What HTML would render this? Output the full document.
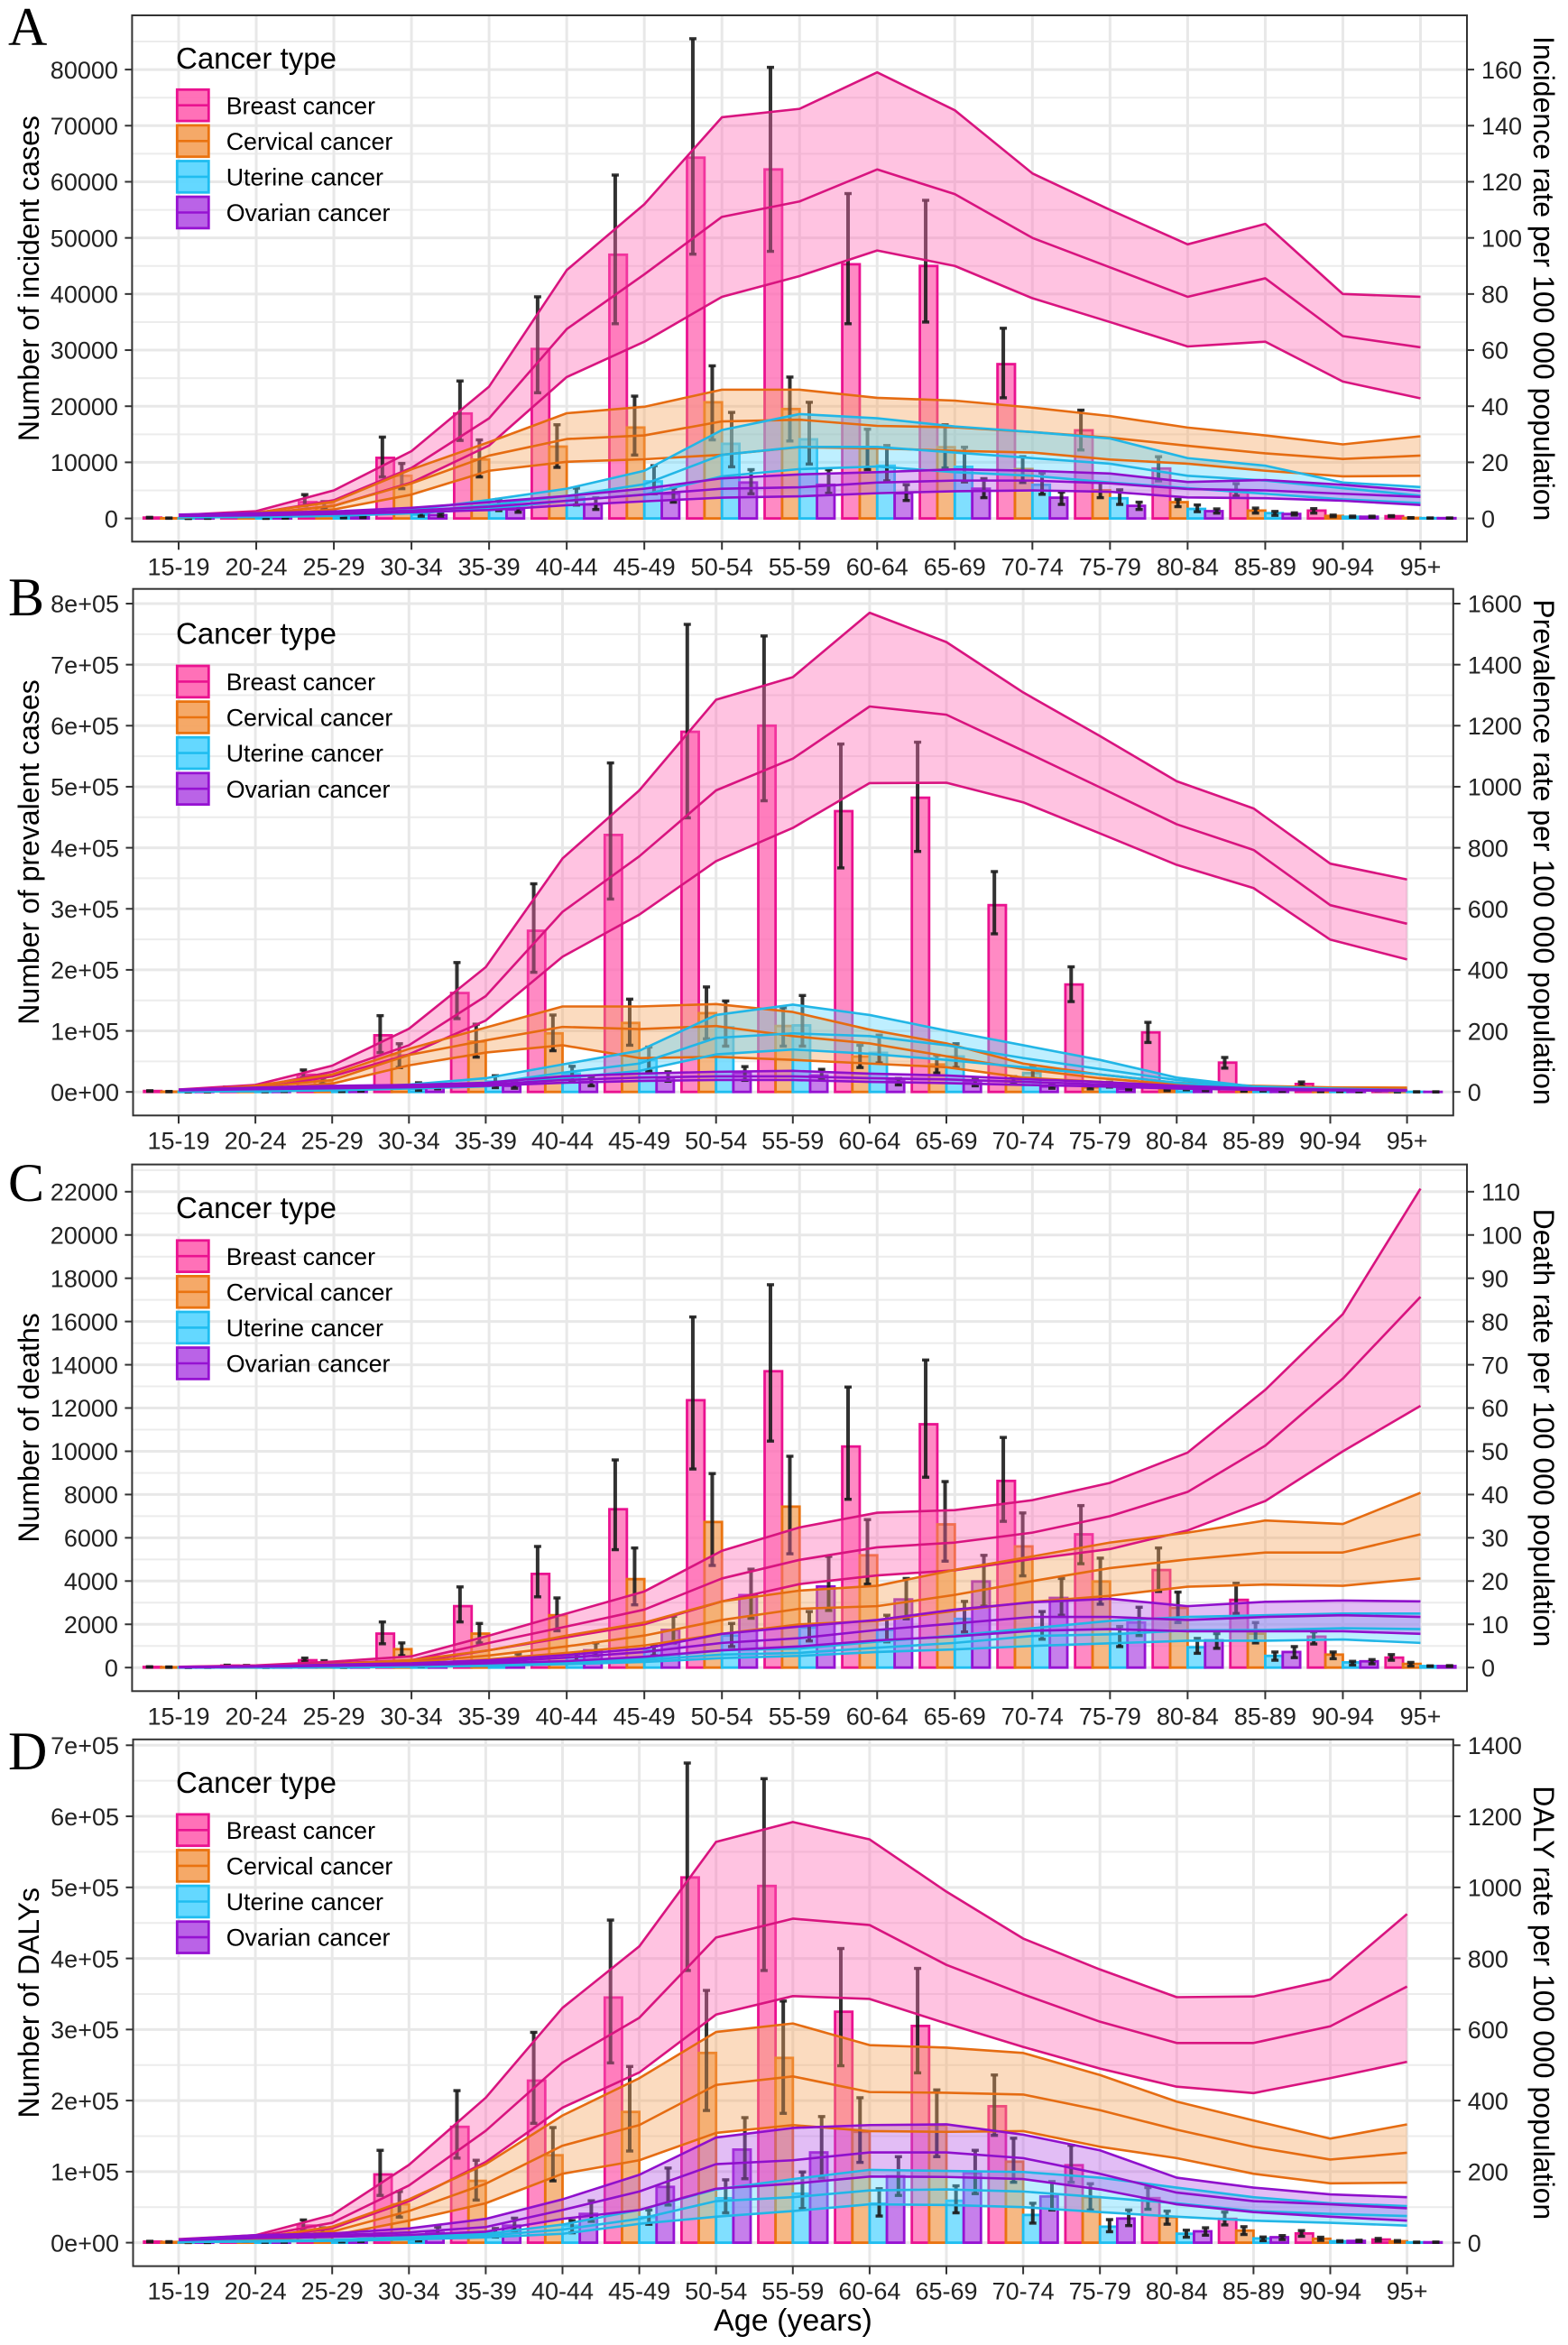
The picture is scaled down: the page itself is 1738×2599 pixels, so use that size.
<!DOCTYPE html>
<html lang="en">
<head>
<meta charset="utf-8">
<title>Cancer burden by age group</title>
<style>
html,body{margin:0;padding:0;background:#fff;}
svg{display:block;}
text{font-family:"Liberation Sans",Arial,sans-serif;}
</style>
</head>
<body>
<svg id="figure" xmlns="http://www.w3.org/2000/svg" width="1738" height="2599" viewBox="0 0 1738 2599"></svg>
<script>
const ageGroups = ['15-19','20-24','25-29','30-34','35-39','40-44','45-49','50-54','55-59','60-64','65-69','70-74','75-79','80-84','85-89','90-94','95+'];

/* Panel A: incidence */
const incBreastBar=[150,500,2900,10800,18700,30200,47000,64300,62200,45300,45000,27500,15700,8900,4800,1400,400];
const incBreastHi=[200,700,4250,14500,24500,39500,61200,85500,80400,57900,56700,33900,19300,11000,6200,1750,500];
const incBreastLo=[100,350,2250,7400,13900,22400,34700,47100,47600,34700,35000,21500,12200,6700,4000,950,300];
const incCervicalBar=[50,600,2700,7600,10500,12800,16200,20700,19500,12500,12700,8800,5000,2900,1400,450,100];
const incCervicalHi=[80,800,3000,9800,14000,16700,21800,27200,25200,15900,16700,11000,6400,3400,1850,600,150];
const incCervicalLo=[30,400,1800,5300,7400,9100,11300,14000,13800,8700,9000,6400,3700,2100,950,300,60];
const incUterineBar=[10,30,150,700,2400,3700,6600,13300,14100,9400,9200,6000,3600,1700,950,300,60];
const incUterineHi=[20,50,250,1900,3400,5400,9400,18900,20700,13000,12700,8100,5100,2400,1250,420,90];
const incUterineLo=[5,15,100,400,1400,2400,4400,9200,9700,6700,6500,4300,2500,1200,550,200,40];
const incOvarianBar=[30,80,200,600,1600,2500,4400,6400,6000,4500,5300,3700,2250,1300,800,300,60];
const incOvarianHi=[50,120,300,1000,2400,3700,5400,8700,8700,6000,7100,4700,2900,1700,1000,400,90];
const incOvarianLo=[20,50,140,400,1100,1600,2900,4400,4500,3200,3700,2500,1600,950,600,200,40];
const incBreastRateUp=[1.2,2.6,10,24,47,88.5,112,143,146,159,145.5,123,110,97.7,105,80,79];
const incBreastRate=[0.9,1.9,6.5,18,35.7,67.5,87,107.5,113,124.4,115.6,100,89.5,79,85.6,65,61];
const incBreastRateLow=[0.7,1.5,4.5,12.8,26,50.4,63,79,86.4,95.5,90,78.5,70,61.3,63,48.8,42.8];
const incCervicalRateUp=[0.4,2,6,17.5,27.2,37.5,39.8,45.9,45.9,43,42,39.5,36.5,32.4,29.6,26.4,29.3];
const incCervicalRate=[0.3,1.5,4.5,12.5,22.4,28.3,29.6,34.6,35.2,33,32.5,30.8,28.8,25.9,23.2,21.2,22.4];
const incCervicalRateLow=[0.2,1.1,3.2,8.5,17,20.2,21.1,22.7,25.4,25,24.1,23.5,21,19.5,17,15,15.2];
const incUterineRateUp=[0.6,0.8,1.5,3,6.6,10.6,17,31.5,37.2,35.7,32.8,30.8,28.5,21.5,18.8,12.8,11.2];
const incUterineRate=[0.5,0.6,1.2,2.4,4.7,8,12.2,22.7,25.5,25.5,23.5,21.5,19.5,15.2,13.5,10.8,8.1];
const incUterineRateLow=[0.4,0.5,0.9,1.8,3.4,6.3,8.5,15,17.6,18.5,16.5,15.2,12.8,10.8,8.8,6.8,5.5];
const incOvarianRateUp=[1.4,1.9,2.5,3.8,5.8,8,10.6,14.3,15.7,16.5,17.5,17,16,13,13.7,12,9.8];
const incOvarianRate=[1.1,1.5,2,2.8,4.2,6.3,8.5,10.6,11.1,12.8,13.5,13.5,12.5,10.5,10,8.8,7.7];
const incOvarianRateLow=[0.9,1.1,1.6,2.2,3,4.7,6.1,7.4,7.9,9,9.7,10,9.5,7.5,7.2,6.3,4.8];
const incTickValues=[0,10000,20000,30000,40000,50000,60000,70000,80000];
const incTickLabels=['0','10000','20000','30000','40000','50000','60000','70000','80000'];
const incRateTickLabels=['0','20','40','60','80','100','120','140','160'];

/* Panel B: prevalence */
const prevBreastBar=[1500,6000,28000,92800,162000,264000,421000,590000,600000,460000,482000,306000,176000,97500,48000,13000,3000];
const prevBreastHi=[2000,8000,36000,125000,212000,341000,539000,766000,747000,570000,573000,361000,205000,114000,56500,16300,4000];
const prevBreastLo=[1000,4500,23000,64500,120000,196000,316000,449000,477000,367000,394000,259000,148000,81000,39000,10000,2200];
const prevCervicalBar=[500,3000,18000,60000,82500,96000,113000,129000,108000,58000,45000,18000,7500,3000,1500,700,200];
const prevCervicalHi=[800,4000,23000,79000,111000,126000,152000,172000,138000,76500,60000,25000,11000,4000,2000,1000,300];
const prevCervicalLo=[300,2000,13000,40000,57000,67500,76500,87000,75000,40000,31000,13000,5000,2000,1000,500,100];
const prevUterineBar=[200,500,1000,5000,17000,30000,52000,106000,109000,64000,58000,31000,11000,5000,2500,800,150];
const prevUterineHi=[300,800,2000,15000,26500,42000,73500,149000,158000,93000,79000,41500,16000,7000,3500,1200,250];
const prevUterineLo=[100,300,600,2500,7000,19000,34000,75000,75000,47500,40000,22000,8000,3500,1500,500,100];
const prevOvarianBar=[300,1000,2000,8000,10000,16300,23500,31000,27000,19000,17500,9000,5000,3000,1500,500,100];
const prevOvarianHi=[500,1500,3500,10000,16000,25000,33000,41500,37000,22000,21000,13000,7000,4000,2000,800,200];
const prevOvarianLo=[200,600,1200,5000,6000,10000,17500,19000,20500,11500,10000,6000,3500,2000,1000,300,60];
const prevBreastRateUp=[8,23,86,207,409,765,988,1285,1359,1570,1474,1309,1166,1018,929,748,696];
const prevBreastRate=[6,15,66,153,314,590,772,988,1092,1263,1236,1118,998,877,793,612,551];
const prevBreastRateLow=[4,11,51,123,234,443,581,756,865,1012,1013,949,847,744,668,499,434];
const prevCervicalRateUp=[2,20,57,141,211,280,280,288,262,204,159,93,57,30,20,15,14];
const prevCervicalRate=[1.5,15,39,121,169,213,206,216,183,159,117,75,45,24,15,11,11];
const prevCervicalRateLow=[1,10,27,87,129,153,111,115,105,93,81,47,33,15,10,8,8];
const prevUterineRateUp=[2,4,10,24,45,90,135,252,286,252,201,153,105,47,18,11,6];
const prevUterineRate=[1.5,3,7,16,27,63,93,177,192,183,153,111,75,39,16,8,5];
const prevUterineRateLow=[1,2,5,11,18,45,69,123,139,125,105,81,57,30,12,6,3];
const prevOvarianRateUp=[8,14,20,23,30,51,60,66,69,60,54,42,33,20,12,8,6];
const prevOvarianRate=[6,11,15,19,24,39,47,51,51,45,41,33,25,16,10,6,5];
const prevOvarianRateLow=[5,9,12,15,20,30,36,39,39,33,29,23,18,11,7,5,4];
const prevTickValues=[0,100000,200000,300000,400000,500000,600000,700000,800000];
const prevTickLabels=['0e+00','1e+05','2e+05','3e+05','4e+05','5e+05','6e+05','7e+05','8e+05'];
const prevRateTickLabels=['0','200','400','600','800','1000','1200','1400','1600'];

/* Panel C: deaths */
const deathBreastBar=[30,90,340,1570,2840,4330,7320,12360,13700,10220,11250,8630,6160,4510,3130,1430,460];
const deathBreastHi=[40,110,440,2110,3730,5600,9600,16210,17700,12970,14220,10640,7490,5530,3900,1650,600];
const deathBreastLo=[20,70,270,1100,2110,3270,5450,9180,10470,7780,8800,6760,4800,3520,2500,1090,340];
const deathCervicalBar=[20,80,200,850,1570,2420,4090,6730,7440,5190,6620,5600,3980,2760,1570,600,170];
const deathCervicalHi=[30,100,320,1140,2040,3220,5530,8970,9770,6840,8600,7150,5060,3490,2080,720,240];
const deathCervicalLo=[10,60,160,550,1140,1700,2900,4720,5260,3860,4920,4240,2930,2080,1140,410,70];
const deathUterineBar=[5,10,20,60,200,480,800,1480,1850,1740,2250,1740,1560,940,540,240,70];
const deathUterineHi=[8,15,30,90,300,630,1000,2040,2590,2420,3060,2590,1900,1350,720,290,80];
const deathUterineLo=[3,8,12,40,120,300,550,970,1230,1190,1650,1310,970,660,340,120,50];
const deathOvarianBar=[10,30,60,150,400,800,1740,3350,3750,3150,3980,3220,2080,1260,720,290,70];
const deathOvarianHi=[15,40,80,220,630,1140,2370,4550,5140,4120,5190,4120,2790,1570,970,370,90];
const deathOvarianLo=[8,20,40,100,200,550,1140,2280,2640,2250,2840,2420,1480,890,460,170,50];
const deathBreastRateUp=[0.2,0.5,1.4,2.6,7.4,12.5,17.6,27,32.4,35.8,36.4,38.7,42.7,49.7,64.2,81.7,110.7];
const deathBreastRate=[0.15,0.4,1,1.7,5.7,9.5,13.4,20.6,24.9,27.8,28.9,31.2,35,40.6,51.3,66.8,85.7];
const deathBreastRateLow=[0.1,0.3,0.8,1.2,4,7,10,15.3,19.3,21.3,22.5,25.1,27.4,31.7,38.5,50,60.5];
const deathCervicalRateUp=[0.05,0.2,0.8,1.7,4,7.4,10.4,15.3,17.8,18.9,22.6,25.7,28.9,31.2,34,33.2,40.4];
const deathCervicalRate=[0.04,0.15,0.6,1.2,2.8,4.9,7.4,11,13.6,14.2,16.8,20,23,25,26.6,26.6,30.8];
const deathCervicalRateLow=[0.03,0.1,0.4,0.8,1.9,3.4,5.1,7.8,10,10.8,13.1,15.2,16.6,18.7,19.2,18.9,20.6];
const deathUterineRateUp=[0.02,0.05,0.1,0.3,0.7,1.2,2.3,4,4.4,6,7.4,9.1,10.8,11.7,12.1,12.5,12.5];
const deathUterineRate=[0.01,0.03,0.08,0.2,0.5,1,1.8,3,3.4,4.6,5.7,7.3,7.7,8.6,8.7,9.1,8.9];
const deathUterineRateLow=[0.01,0.02,0.06,0.15,0.4,0.8,1.3,2.2,2.7,3.6,4.2,5,5.6,6.2,6.2,6.5,5.7];
const deathOvarianRateUp=[0.1,0.3,0.7,1,1.7,2.9,4.4,7.8,9.5,11,13.4,15.1,15.9,14.2,15.2,15.5,15.3];
const deathOvarianRate=[0.08,0.25,0.55,0.8,1.3,2.3,3.6,5.7,6.8,8.7,10.2,11.7,11.7,11,11.7,12.1,11.7];
const deathOvarianRateLow=[0.06,0.2,0.4,0.6,1,1.5,2.5,4,4.9,6.3,7.2,8.5,8.9,8.4,8.4,8.4,7.8];
const deathTickValues=[0,2000,4000,6000,8000,10000,12000,14000,16000,18000,20000,22000];
const deathTickLabels=['0','2000','4000','6000','8000','10000','12000','14000','16000','18000','20000','22000'];
const deathRateTickLabels=['0','10','20','30','40','50','60','70','80','90','100','110'];

/* Panel D: DALYs */
const dalyBreastBar=[1500,4000,24000,96000,163000,228000,345000,514000,502000,325000,305000,192000,109000,62700,33500,13000,4400];
const dalyBreastHi=[2000,5000,32000,130000,214000,296000,454000,675000,653000,414000,386000,236000,137000,77500,43000,17000,6000];
const dalyBreastLo=[1000,3000,17000,66500,119000,168000,253000,383000,383000,249000,239000,151000,85000,47000,25000,9000,2200];
const dalyCervicalBar=[1000,3000,17000,54000,87000,123000,184000,267000,260000,156000,165000,114000,64000,36000,17000,5500,2000];
const dalyCervicalHi=[1500,4000,21000,72000,116000,162000,248000,355000,340000,204000,215000,147000,83000,44500,22500,7700,3000];
const dalyCervicalLo=[600,2000,11500,36000,60000,87000,129000,186000,182000,113000,121000,85000,46000,26000,11500,3300,1000];
const dalyUterineBar=[300,800,1500,4000,14000,24000,36000,62500,69000,55000,59000,39000,22500,12600,6000,2000,500];
const dalyUterineHi=[500,1200,2500,6000,20000,31000,46000,88500,99500,76000,80000,55500,32500,17600,8000,2800,800];
const dalyUterineLo=[200,500,1000,2500,8000,14000,26000,42000,48000,37500,42000,27500,15400,7700,2800,1200,300];
const dalyOvarianBar=[300,1000,2500,14000,24000,40500,78500,131000,127000,93500,98000,65000,34000,16000,7700,2500,600];
const dalyOvarianHi=[500,1500,4000,22000,34500,59000,105000,176000,177500,121000,130000,86000,46000,21000,10000,3500,900];
const dalyOvarianLo=[200,600,1500,8000,17000,30000,53000,90000,91000,66500,69000,46000,24000,10500,4400,1500,400];
const dalyBreastRateUp=[10,21,78,219,408,661,834,1128,1184,1135,988,856,769,691,693,741,925];
const dalyBreastRate=[8,17,56,161,315,507,633,859,912,894,782,699,622,562,562,609,721];
const dalyBreastRateLow=[6,13,40,117,227,380,479,642,694,686,617,551,490,439,421,463,509];
const dalyCervicalRateUp=[2,12,45,122,221,358,463,593,617,556,549,534,472,397,344,293,333];
const dalyCervicalRate=[1.5,9,31,89,166,273,331,444,468,424,422,417,373,318,270,234,253];
const dalyCervicalRateLow=[1,6,20,62,111,194,232,309,331,314,312,314,270,238,194,167,169];
const dalyUterineRateUp=[3,5,8,16,25,51,92,150,179,205,202,199,183,155,128,111,103];
const dalyUterineRate=[2,4,6,12,20,37,67,117,128,147,150,144,128,111,89,81,75];
const dalyUterineRateLow=[2,3,5,9,15,25,53,73,89,108,106,100,86,73,62,56,48];
const dalyOvarianRateUp=[9,21,26,40,67,122,191,296,323,331,333,304,260,183,155,136,128];
const dalyOvarianRate=[8,17,21,29,44,92,144,221,232,254,254,238,194,141,117,108,97];
const dalyOvarianRateLow=[7,13,16,22,31,67,92,152,166,186,185,179,150,108,86,73,62];
const dalyTickValues=[0,100000,200000,300000,400000,500000,600000,700000];
const dalyTickLabels=['0e+00','1e+05','2e+05','3e+05','4e+05','5e+05','6e+05','7e+05'];
const dalyRateTickLabels=['0','200','400','600','800','1000','1200','1400'];

const seriesNames=['Breast cancer','Cervical cancer','Uterine cancer','Ovarian cancer'];
const legendTitle='Cancer type';
const xAxisTitle='Age (years)';

const styles=[
  {slug:'breast',stroke:'#ea1290',line:'#d8147f',fill:'#ff69b4',ribbon:'#ff69b4'},
  {slug:'cervical',stroke:'#ea7310',line:'#e56c12',fill:'#f4a460',ribbon:'#f4a460'},
  {slug:'uterine',stroke:'#1fbdf0',line:'#22b6e6',fill:'#5cd6ff',ribbon:'#5cd6ff'},
  {slug:'ovarian',stroke:'#9612d2',line:'#8f10cc',fill:'#b65be6',ribbon:'#b65be6'}
];

const panels=[
 {slug:'incidence',letter:'A',letterY:50,left:146.4,right:1626,top:17,bottom:600.3,x0:198,dx:86.03,y0:574.6,yRef:77.1,refValue:80000,factor:500,
  yTitle:'Number of incident cases',rTitle:'Incidence rate per 100 000 population',ticks:incTickValues,labels:incTickLabels,rLabels:incRateTickLabels,
  titleY:76,keyTop:98,
  data:[
   {bar:incBreastBar,hi:incBreastHi,lo:incBreastLo,up:incBreastRateUp,mid:incBreastRate,low:incBreastRateLow},
   {bar:incCervicalBar,hi:incCervicalHi,lo:incCervicalLo,up:incCervicalRateUp,mid:incCervicalRate,low:incCervicalRateLow},
   {bar:incUterineBar,hi:incUterineHi,lo:incUterineLo,up:incUterineRateUp,mid:incUterineRate,low:incUterineRateLow},
   {bar:incOvarianBar,hi:incOvarianHi,lo:incOvarianLo,up:incOvarianRateUp,mid:incOvarianRate,low:incOvarianRateLow}]},
 {slug:'prevalence',letter:'B',letterY:682,left:147.5,right:1610.8,top:652.7,bottom:1236.3,x0:198,dx:85.1,y0:1210.2,yRef:669,refValue:800000,factor:500,
  yTitle:'Number of prevalent cases',rTitle:'Prevalence rate per 100 000 population',ticks:prevTickValues,labels:prevTickLabels,rLabels:prevRateTickLabels,
  titleY:713.5,keyTop:736.7,
  data:[
   {bar:prevBreastBar,hi:prevBreastHi,lo:prevBreastLo,up:prevBreastRateUp,mid:prevBreastRate,low:prevBreastRateLow},
   {bar:prevCervicalBar,hi:prevCervicalHi,lo:prevCervicalLo,up:prevCervicalRateUp,mid:prevCervicalRate,low:prevCervicalRateLow},
   {bar:prevUterineBar,hi:prevUterineHi,lo:prevUterineLo,up:prevUterineRateUp,mid:prevUterineRate,low:prevUterineRateLow},
   {bar:prevOvarianBar,hi:prevOvarianHi,lo:prevOvarianLo,up:prevOvarianRateUp,mid:prevOvarianRate,low:prevOvarianRateLow}]},
 {slug:'deaths',letter:'C',letterY:1331,left:146.4,right:1626,top:1290.6,bottom:1874.3,x0:198,dx:86.03,y0:1848.2,yRef:1320.8,refValue:22000,factor:200,
  yTitle:'Number of deaths',rTitle:'Death rate per 100 000 population',ticks:deathTickValues,labels:deathTickLabels,rLabels:deathRateTickLabels,
  titleY:1350,keyTop:1373.5,
  data:[
   {bar:deathBreastBar,hi:deathBreastHi,lo:deathBreastLo,up:deathBreastRateUp,mid:deathBreastRate,low:deathBreastRateLow},
   {bar:deathCervicalBar,hi:deathCervicalHi,lo:deathCervicalLo,up:deathCervicalRateUp,mid:deathCervicalRate,low:deathCervicalRateLow},
   {bar:deathUterineBar,hi:deathUterineHi,lo:deathUterineLo,up:deathUterineRateUp,mid:deathUterineRate,low:deathUterineRateLow},
   {bar:deathOvarianBar,hi:deathOvarianHi,lo:deathOvarianLo,up:deathOvarianRateUp,mid:deathOvarianRate,low:deathOvarianRateLow}]},
 {slug:'dalys',letter:'D',letterY:1961,left:147.5,right:1610.8,top:1927.8,bottom:2511.6,x0:198,dx:85.1,y0:2485.6,yRef:1934.3,refValue:700000,factor:500,
  yTitle:'Number of DALYs',rTitle:'DALY rate per 100 000 population',ticks:dalyTickValues,labels:dalyTickLabels,rLabels:dalyRateTickLabels,
  titleY:1987,keyTop:2009.6,
  data:[
   {bar:dalyBreastBar,hi:dalyBreastHi,lo:dalyBreastLo,up:dalyBreastRateUp,mid:dalyBreastRate,low:dalyBreastRateLow},
   {bar:dalyCervicalBar,hi:dalyCervicalHi,lo:dalyCervicalLo,up:dalyCervicalRateUp,mid:dalyCervicalRate,low:dalyCervicalRateLow},
   {bar:dalyUterineBar,hi:dalyUterineHi,lo:dalyUterineLo,up:dalyUterineRateUp,mid:dalyUterineRate,low:dalyUterineRateLow},
   {bar:dalyOvarianBar,hi:dalyOvarianHi,lo:dalyOvarianLo,up:dalyOvarianRateUp,mid:dalyOvarianRate,low:dalyOvarianRateLow}]}
];

const NS='http://www.w3.org/2000/svg';
const root=document.getElementById('figure');
function mk(tag,attrs,parent,content){
  const n=document.createElementNS(NS,tag);
  for(const k in attrs){n.setAttribute(k,attrs[k]);}
  if(content!==undefined){n.textContent=content;}
  parent.appendChild(n);
  return n;
}
function xScale(p,i){return p.x0+i*p.dx;}
function yScale(p,v){return p.y0-(p.y0-p.yRef)*v/p.refValue;}
function rateScale(p,r){return yScale(p,r*p.factor);}
function linePath(p,arr){return arr.map(function(v,i){return (i?'L':'M')+xScale(p,i).toFixed(2)+' '+rateScale(p,v).toFixed(2);}).join('');}
function ribbonPath(p,up,low){
  let d=up.map(function(v,i){return (i?'L':'M')+xScale(p,i).toFixed(2)+' '+rateScale(p,v).toFixed(2);}).join('');
  for(let i=low.length-1;i>=0;i--){d+='L'+xScale(p,i).toFixed(2)+' '+rateScale(p,low[i]).toFixed(2);}
  return d+'Z';
}

panels.forEach(function(p){
  const g=mk('g',{},root);
  
  

  const clipId='clip-'+p.slug;
  const defs=mk('defs',{},g);
  const cp=mk('clipPath',{id:clipId},defs);
  mk('rect',{x:p.left,y:p.top,width:p.right-p.left,height:p.bottom-p.top},cp);

  /* gridlines */
  const grid=mk('g',{'clip-path':'url(#'+clipId+')'},g);
  
  
  const step=p.ticks[1]-p.ticks[0];
  for(let k=0;k<p.ticks.length+1;k++){
    const my=yScale(p,k*step+step/2);
    if(my>p.top){
      const m=mk('line',{x1:p.left,x2:p.right,y1:my,y2:my,stroke:'#ececec','stroke-width':2},grid);
      
      
    }
  }
  p.ticks.forEach(function(v){
    const y=yScale(p,v);
    const m=mk('line',{x1:p.left,x2:p.right,y1:y,y2:y,stroke:'#e8e8e8','stroke-width':3},grid);
    
    
  });
  ageGroups.forEach(function(a,i){
    const x=xScale(p,i);
    const m=mk('line',{x1:x,x2:x,y1:p.top,y2:p.bottom,stroke:'#e8e8e8','stroke-width':3},grid);
    
    
  });

  /* bars */
  const bars=mk('g',{},g);
  
  
  p.data.forEach(function(s,j){
    const st=styles[j];
    const w=0.225*p.dx;
    s.bar.forEach(function(v,i){
      const cx=xScale(p,i)+(j-1.5)*w;
      const yTop=yScale(p,v);
      const r=mk('rect',{x:(cx-w/2).toFixed(2),y:yTop.toFixed(2),width:w.toFixed(2),height:Math.max(0,p.y0-yTop).toFixed(2),fill:st.fill,'fill-opacity':0.78,stroke:st.stroke,'stroke-width':2.8},bars);
      
      
    });
  });

  /* error bars */
  const errs=mk('g',{stroke:'#1c1c1c','stroke-opacity':0.9,fill:'none'},g);
  
  
  p.data.forEach(function(s,j){
    const st=styles[j];
    s.hi.forEach(function(v,i){
      const cx=xScale(p,i)+(j-1.5)*0.25*p.dx;
      const yHi=yScale(p,v),yLo=yScale(p,s.lo[i]);
      const e=mk('g',{},errs);
      
      
      mk('line',{x1:cx,x2:cx,y1:yHi,y2:yLo,'stroke-width':4},e);
      mk('line',{x1:cx-4,x2:cx+4,y1:yHi,y2:yHi,'stroke-width':3.4},e);
      mk('line',{x1:cx-4,x2:cx+4,y1:yLo,y2:yLo,'stroke-width':3.4},e);
    });
  });

  /* ribbons and lines */
  p.data.forEach(function(s,j){
    const st=styles[j];
    const rb=mk('path',{d:ribbonPath(p,s.up,s.low),fill:st.ribbon,'fill-opacity':0.4,stroke:'none'},g);
    
    
  });
  p.data.forEach(function(s,j){
    const st=styles[j];
    [['upper',s.up],['mean',s.mid],['lower',s.low]].forEach(function(item){
      const l=mk('path',{d:linePath(p,item[1]),fill:'none',stroke:st.line,'stroke-width':2.6,'stroke-linejoin':'round'},g);
      
      
    });
  });

  /* border */
  const border=mk('rect',{x:p.left,y:p.top,width:p.right-p.left,height:p.bottom-p.top,fill:'none',stroke:'#333','stroke-width':2},g);
  
  

  /* left and right axes */
  p.ticks.forEach(function(v,k){
    const y=yScale(p,v);
    const tl=mk('line',{x1:p.left-8,x2:p.left,y1:y,y2:y,stroke:'#333','stroke-width':2},g);
    
    
    const lb=mk('text',{x:p.left-15.5,y:y+9.7,'text-anchor':'end','font-size':27,fill:'#222'},g,p.labels[k]);
    
    
    const tr=mk('line',{x1:p.right,x2:p.right+8,y1:y,y2:y,stroke:'#333','stroke-width':2},g);
    
    
    const rb=mk('text',{x:p.right+16,y:y+9.7,'text-anchor':'start','font-size':27,fill:'#222'},g,p.rLabels[k]);
    
    
  });

  /* x axis */
  ageGroups.forEach(function(a,i){
    const x=xScale(p,i);
    const t=mk('line',{x1:x,x2:x,y1:p.bottom,y2:p.bottom+9,stroke:'#333','stroke-width':2},g);
    
    
    const lb=mk('text',{x:x,y:p.bottom+37,'text-anchor':'middle','font-size':27,fill:'#222'},g,a);
    
    
  });

  /* axis titles */
  const cy=(p.top+p.bottom)/2;
  const yt=mk('text',{transform:'translate(43 '+cy+') rotate(-90)','text-anchor':'middle','font-size':32,fill:'#000'},g,p.yTitle);
  
  
  const rt=mk('text',{transform:'translate(1700 '+cy+') rotate(90)','text-anchor':'middle','font-size':32,fill:'#000'},g,p.rTitle);
  
  

  /* panel letter */
  const pl=mk('text',{x:9,y:p.letterY,'font-size':60,fill:'#000',style:'font-family:"Liberation Serif",serif'},g,p.letter);
  
  

  /* legend */
  const lg=mk('g',{},g);
  
  
  const lt=mk('text',{x:195,y:p.titleY,'font-size':33,fill:'#000'},lg,legendTitle);
  
  
  seriesNames.forEach(function(name,j){
    const st=styles[j];
    const ky=p.keyTop+j*39.6;
    const e=mk('g',{},lg);
    
    
    mk('rect',{x:196.3,y:ky+1.3,width:35,height:34.8,fill:st.fill,'fill-opacity':0.95,stroke:st.stroke,'stroke-width':2.8},e);
    mk('line',{x1:197,x2:231,y1:ky+18.7,y2:ky+18.7,stroke:st.stroke,'stroke-width':2.6},e);
    const tx=mk('text',{x:250.7,y:ky+28.3,'font-size':26.8,fill:'#000'},e,name);
    
    
  });
});

const xt=mk('text',{x:879,y:2583,'text-anchor':'middle','font-size':34,fill:'#000'},root,xAxisTitle);


</script>
</body>
</html>
